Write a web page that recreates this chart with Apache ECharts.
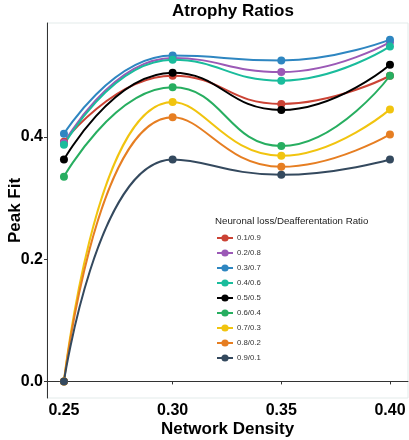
<!DOCTYPE html>
<html>
<head>
<meta charset="utf-8">
<script src="https://cdn.jsdelivr.net/npm/echarts@6/dist/echarts.min.js"></script>
<style>html,body{margin:0;padding:0;background:#fff;}#c{width:409px;height:440px;}</style>
</head>
<body>
<div id="c"></div>
<script>
const densities = [0.25, 0.30, 0.35, 0.40];
const xTicks = [0.25, 0.30, 0.35, 0.40];
const yTicks = [0.0, 0.2, 0.4];
const ratioNames = ['0.1/0.9','0.2/0.8','0.3/0.7','0.4/0.6','0.5/0.5','0.6/0.4','0.7/0.3','0.8/0.2','0.9/0.1'];
const r01 = [0.392, 0.500, 0.454, 0.500];
const r02 = [0.390, 0.529, 0.506, 0.555];
const r03 = [0.405, 0.533, 0.525, 0.559];
const r04 = [0.387, 0.526, 0.492, 0.548];
const r05 = [0.363, 0.505, 0.444, 0.518];
const r06 = [0.335, 0.481, 0.385, 0.500];
const r07 = [0.000, 0.457, 0.369, 0.445];
const r08 = [0.000, 0.432, 0.351, 0.404];
const r09 = [0.000, 0.363, 0.338, 0.363];
const seriesValues = [r01, r02, r03, r04, r05, r06, r07, r08, r09];
const colors = ['#CB4335','#9B59B6','#2E86C1','#1ABC9C','#000000','#27AE60','#F1C40F','#E67E22','#34495E'];

const chart = echarts.init(document.getElementById('c'), null, {renderer:'canvas'});
const series = ratioNames.map((n, i) => ({
  name: n,
  type: 'line',
  smooth: 0.5,
  symbol: 'circle',
  symbolSize: 8,
  showSymbol: true,
  lineStyle: {width: 2, color: colors[i]},
  itemStyle: {color: colors[i]},
  data: densities.map((d, j) => [d, seriesValues[i][j]])
}));

const font = 'Liberation Sans, Arial, sans-serif';
chart.setOption({
  animation: false,
  backgroundColor: '#fff',
  title: [{
    text: 'Atrophy Ratios',
    left: 228, top: -2, textAlign: 'center',
    textStyle: {fontFamily: font, fontSize: 17, fontWeight: 'bold', color: '#000'}
  }, {
    text: 'Neuronal loss/Deafferentation Ratio',
    left: 210, top: 211,
    textStyle: {fontFamily: font, fontSize: 9.7, fontWeight: 'normal', color: '#222'}
  }],
  legend: {
    orient: 'vertical',
    left: 211, top: 229,
    itemWidth: 16, itemHeight: 9, itemGap: 7,
    textStyle: {fontFamily: font, fontSize: 7.8, color: '#333', padding: [0,0,0,-1]},
    data: ratioNames
  },
  grid: {left: 47, right: 1, top: 23, bottom: 42, containLabel: false, outerBoundsMode: 'none',
    show: true, borderColor: '#e3ebea', borderWidth: 1},
  xAxis: {
    type: 'value', min: 0.2422, max: 0.4083,
    name: 'Network Density', nameLocation: 'middle', nameGap: 23, nameMoveOverlap: false,
    nameTextStyle: {fontFamily: font, fontSize: 17, fontWeight: 'bold', color: '#000'},
    axisLine: {show: true, lineStyle: {color: '#333', width: 1}},
    axisTick: {show: true, customValues: xTicks, length: 3, lineStyle: {color: '#333'}},
    axisLabel: {customValues: xTicks, fontFamily: font, fontSize: 16, fontWeight: 'bold', color: '#000', margin: 5,
      formatter: v => v.toFixed(2)},
    splitLine: {show: false}
  },
  yAxis: {
    type: 'value', min: -0.0271, max: 0.5863,
    name: 'Peak Fit', nameLocation: 'middle', nameGap: 23, nameRotate: 90, nameMoveOverlap: false,
    nameTextStyle: {fontFamily: font, fontSize: 17, fontWeight: 'bold', color: '#000'},
    axisLine: {show: true, lineStyle: {color: '#333', width: 1}},
    axisTick: {show: true, customValues: yTicks, length: 3, lineStyle: {color: '#333'}},
    axisLabel: {customValues: yTicks, fontFamily: font, fontSize: 16, fontWeight: 'bold', color: '#000', margin: 4,
      formatter: v => v.toFixed(1)},
    splitLine: {show: false}
  },
  series: series
});
</script>
</body>
</html>
